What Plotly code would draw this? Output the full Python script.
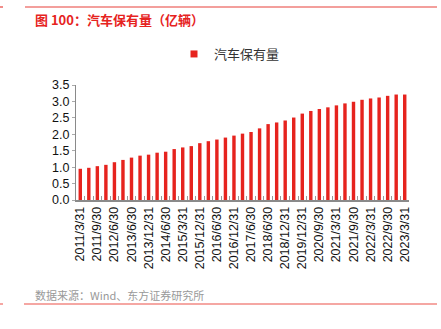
import plotly.graph_objects as go

dates = ["2011/3/31", "2011/6/30", "2011/9/30", "2011/12/31", "2012/6/30", "2012/12/31",
         "2013/6/30", "2013/9/30", "2013/12/31", "2014/3/31", "2014/6/30", "2014/12/31",
         "2015/3/31", "2015/9/30", "2015/12/31", "2016/3/31", "2016/6/30", "2016/9/30",
         "2016/12/31", "2017/3/31", "2017/6/30", "2017/12/31", "2018/6/30", "2018/9/30",
         "2018/12/31", "2019/6/30", "2019/12/31", "2020/6/30", "2020/9/30", "2020/12/31",
         "2021/3/31", "2021/6/30", "2021/9/30", "2021/12/31", "2022/3/31", "2022/6/30",
         "2022/9/30", "2022/12/31", "2023/3/31"]
values = [0.95, 0.98, 1.03, 1.07, 1.15, 1.22, 1.29, 1.35, 1.38, 1.44, 1.47, 1.55, 1.60,
          1.64, 1.73, 1.79, 1.84, 1.90, 1.96, 2.02, 2.07, 2.18, 2.31, 2.36, 2.42, 2.51,
          2.63, 2.71, 2.77, 2.82, 2.88, 2.94, 2.99, 3.05, 3.09, 3.12, 3.17, 3.21, 3.21]
tick_labels = dates[::2]
series_name = "汽车保有量"
title_text = "图 100：汽车保有量（亿辆）"
source_text = "数据来源：Wind、东方证券研究所"

W, H = 441, 329
L, R, T, B = 76, 409, 85, 200
RED = "#E6231E"
CJK = "Noto Sans CJK SC"
LAT = "Liberation Sans, Arial"


def px_x(x):
    return (x - L) / (R - L)


def px_y(y):
    return (B - y) / (B - T)


fig = go.Figure()
fig.add_trace(go.Bar(x=dates, y=values, marker=dict(color=RED, line=dict(width=0)),
                     name=series_name, showlegend=False, width=0.4))
fig.add_trace(go.Scatter(x=[None], y=[None], mode="markers", name=series_name,
                         marker=dict(symbol="square", size=7, color=RED), showlegend=True))
# boundary tick marks on an overlay axis
fig.add_trace(go.Scatter(x=[None], y=[None], xaxis="x2", showlegend=False))

n = len(dates)
fig.update_layout(
    width=W, height=H,
    margin=dict(l=L, r=W - R, t=T, b=H - B),
    paper_bgcolor="white", plot_bgcolor="white",
    font=dict(family=LAT, size=12.5, color="#111"),
    xaxis=dict(type="category", categoryorder="array", categoryarray=dates,
               range=[-0.5, n - 0.5], tickmode="array", tickvals=tick_labels,
               ticktext=tick_labels, tickangle=-90, ticks="", showline=True,
               linecolor="#8a8a8a", linewidth=1.5, showgrid=False, zeroline=False,
               tickfont=dict(family=LAT, size=12.5, color="#111")),
    xaxis2=dict(overlaying="x", range=[-0.5, n - 0.5], tickmode="linear", tick0=-0.5,
                dtick=1, ticks="inside", ticklen=4, tickcolor="#9a9a9a", tickwidth=1,
                showticklabels=False, showgrid=False, zeroline=False, showline=False,
                anchor="y"),
    yaxis=dict(range=[0, 3.5], dtick=0.5, tickformat=".1f", showline=True,
               linecolor="#8a8a8a", linewidth=1, ticks="outside", ticklen=3,
               tickcolor="#aaaaaa", showgrid=False, zeroline=False,
               tickfont=dict(family=LAT, size=12.5, color="#111")),
    bargap=0.6,
    legend=dict(orientation="h", x=px_x(174), xanchor="left", y=px_y(54), yanchor="middle",
                font=dict(family=CJK, size=13, color="#333"), bgcolor="rgba(0,0,0,0)",
                itemwidth=30),
    annotations=[
        dict(text=title_text, x=px_x(33), y=px_y(19), xref="paper", yref="paper",
             xanchor="left", yanchor="middle", showarrow=False,
             font=dict(family=CJK, size=13, color=RED, weight="bold")),
        dict(text=source_text, x=px_x(33), y=px_y(295), xref="paper", yref="paper",
             xanchor="left", yanchor="middle", showarrow=False,
             font=dict(family=CJK, size=11, color="#999")),
    ],
    shapes=[
        dict(type="line", xref="paper", yref="paper", x0=px_x(25), x1=px_x(437),
             y0=px_y(7), y1=px_y(7), line=dict(color="#E8413B", width=1.2)),
        dict(type="line", xref="paper", yref="paper", x0=px_x(24), x1=px_x(437),
             y0=px_y(304), y1=px_y(304), line=dict(color="#F28A84", width=1.5)),
        dict(type="line", xref="paper", yref="paper", x0=px_x(0), x1=px_x(3),
             y0=px_y(7), y1=px_y(7), line=dict(color="#E8413B", width=1.2)),
        dict(type="line", xref="paper", yref="paper", x0=px_x(0), x1=px_x(3),
             y0=px_y(304), y1=px_y(304), line=dict(color="#F28A84", width=1.5)),
    ],
)

fig.write_html("out.html")
